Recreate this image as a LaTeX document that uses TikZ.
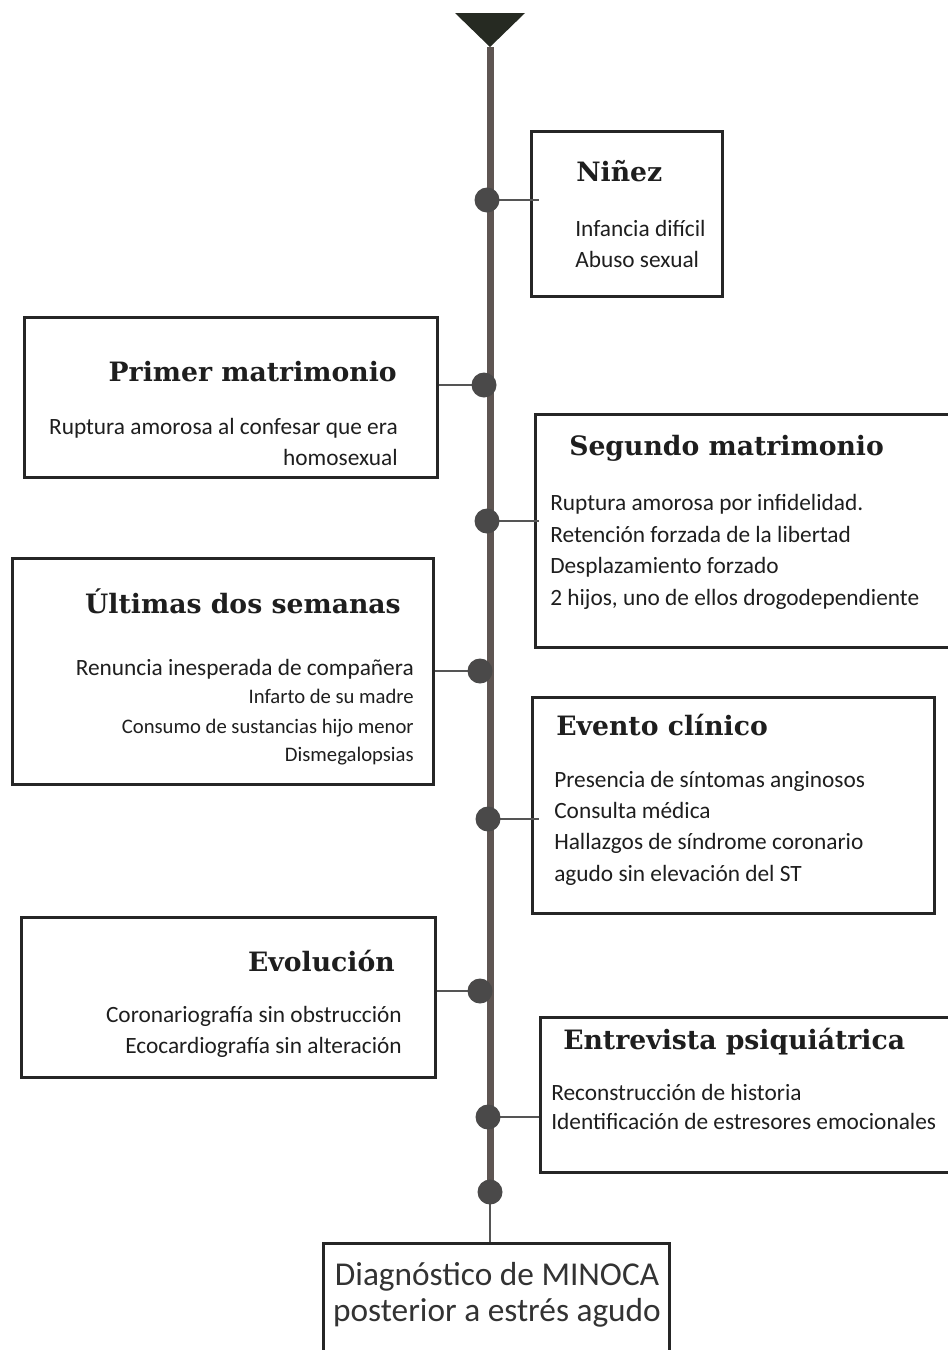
\documentclass[tikz,border=0pt]{standalone}
\usepackage{fontspec}
\setmainfont{Carlito}
\newfontfamily\headfont{DejaVu Serif}
\usetikzlibrary{fit,calc}
\definecolor{linec}{HTML}{5E5552}
\definecolor{dotc}{HTML}{4A4949}
\definecolor{tric}{HTML}{262A22}
\definecolor{boxc}{HTML}{262626}
\definecolor{connc}{HTML}{555555}
\definecolor{txt}{HTML}{1E1E1E}
\definecolor{diagc}{HTML}{333333}
\begin{document}
\begin{tikzpicture}[x=0.75pt,y=-0.75pt,
  box/.style={draw=boxc, line width=2.25pt, inner sep=0pt},
  head/.style={font=\headfont\bfseries\fontsize{20}{24}\selectfont, text=txt, inner sep=0pt},
  body/.style={font=\fontsize{17.5}{20}\selectfont, text=txt, inner sep=0pt},
  bodybig/.style={font=\fontsize{17.5}{20}\selectfont, text=txt, inner sep=0pt},
  bodysmall/.style={font=\fontsize{15.5}{18}\selectfont, text=txt, inner sep=0pt},
  diagtxt/.style={font=\fontsize{25}{29}\selectfont, text=diagc, inner sep=0pt},
  conn/.style={draw=connc, line width=1.9pt},
  mainline/.style={draw=linec, line width=5.25pt},
  dot/.style={circle, fill=dotc, minimum size=18.75pt, inner sep=0pt},
]
\useasboundingbox (0,0) rectangle (947,1350);

% timeline anchor points
\coordinate (top) at (490,47);
\coordinate (p1) at (487,200);
\coordinate (p2) at (484,385);
\coordinate (p3) at (487,521);
\coordinate (p4) at (480,671);
\coordinate (p5) at (488,819);
\coordinate (p6) at (480,991);
\coordinate (p7) at (488,1117);
\coordinate (p8) at (490,1192);

% boxes
\node[box, fit={(531,131)(722,296)}] (nin) {};
\node[box, fit={(24,317)(437,477)}] (prim) {};
\node[box, fit={(535,414)(952,647)}] (seg) {};
\node[box, fit={(12,558)(433,784)}] (ult) {};
\node[box, fit={(532,697)(934,913)}] (evc) {};
\node[box, fit={(21,917)(435,1077)}] (evo) {};
\node[box, fit={(540,1017)(952,1172)}] (ent) {};
\node[box, fit={(323,1243)(669,1362)}] (diag) {};

% main line and triangle
\fill[tric] (455,13) -- (525,13) -- (top) -- cycle;
\draw[mainline] (top) -- (p8);

% connectors
\draw[conn] (p1) -- ($(p1 -| nin.west)+(9,0)$);
\draw[conn] (p2) -- (p2 -| prim.east);
\draw[conn] (p3) -- ($(p3 -| seg.west)+(5,0)$);
\draw[conn] (p4) -- (p4 -| ult.east);
\draw[conn] (p5) -- ($(p5 -| evc.west)+(8,0)$);
\draw[conn] (p6) -- (p6 -| evo.east);
\draw[conn] (p7) -- (p7 -| ent.west);
\draw[conn] (p8) -- (p8 |- diag.north);

% dots
\node[dot] (d1) at (p1) {};
\node[dot] (d2) at (p2) {};
\node[dot] (d3) at (p3) {};
\node[dot] (d4) at (p4) {};
\node[dot] (d5) at (p5) {};
\node[dot] (d6) at (p6) {};
\node[dot] (d7) at (p7) {};
\node[dot] (d8) at (p8) {};

% Niñez
\node[head, anchor=base west] (ninH) at (576,181) {Niñez};
\node[body, anchor=base west] (ninA) at (575,236) {Infancia difícil};
\node[body, anchor=base west] (ninB) at (575,267) {Abuso sexual};

% Primer matrimonio
\node[head, anchor=base east] (primH) at (397,381) {Primer matrimonio};
\node[body, anchor=base east] (primA) at (398,434) {Ruptura amorosa al confesar que era};
\node[body, anchor=base east] (primB) at (398,465) {homosexual};

% Segundo matrimonio
\node[head, anchor=base west] (segH) at (569,455) {Segundo matrimonio};
\node[body, anchor=base west] (segA) at (550,510) {Ruptura amorosa por infidelidad.};
\node[body, anchor=base west] (segB) at (550,542) {Retención forzada de la libertad};
\node[body, anchor=base west] (segC) at (550,573) {Desplazamiento forzado};
\node[body, anchor=base west] (segD) at (550,605) {2 hijos, uno de ellos drogodependiente};

% Últimas dos semanas
\node[head, anchor=base east] (ultH) at (401,613) {Últimas dos semanas};
\node[bodybig, anchor=base east] (ultA) at (414,675) {Renuncia inesperada de compañera};
\node[bodysmall, anchor=base east] (ultB) at (414,703) {Infarto de su madre};
\node[bodysmall, anchor=base east] (ultC) at (414,733) {Consumo de sustancias hijo menor};
\node[bodysmall, anchor=base east] (ultD) at (414,761) {Dismegalopsias};

% Evento clínico
\node[head, anchor=base west] (evcH) at (556,735) {Evento clínico};
\node[body, anchor=base west] (evcA) at (554,787) {Presencia de síntomas anginosos};
\node[body, anchor=base west] (evcB) at (554,818) {Consulta médica};
\node[body, anchor=base west] (evcC) at (554,849) {Hallazgos de síndrome coronario};
\node[body, anchor=base west] (evcD) at (554,881) {agudo sin elevación del ST};

% Evolución
\node[head, anchor=base east] (evoH) at (395,971) {Evolución};
\node[body, anchor=base east] (evoA) at (402,1022) {Coronariografía sin obstrucción};
\node[body, anchor=base east] (evoB) at (402,1053) {Ecocardiografía sin alteración};

% Entrevista psiquiátrica
\node[head, anchor=base west] (entH) at (563,1049) {Entrevista psiquiátrica};
\node[body, anchor=base west] (entA) at (551,1100) {Reconstrucción de historia};
\node[body, anchor=base west] (entB) at (551,1129) {Identificación de estresores emocionales};

% Diagnóstico
\node[diagtxt, anchor=base] (diagA) at (497,1285) {Diagnóstico de MINOCA};
\node[diagtxt, anchor=base] (diagB) at (497,1321) {posterior a estrés agudo};
\end{tikzpicture}
\end{document}
